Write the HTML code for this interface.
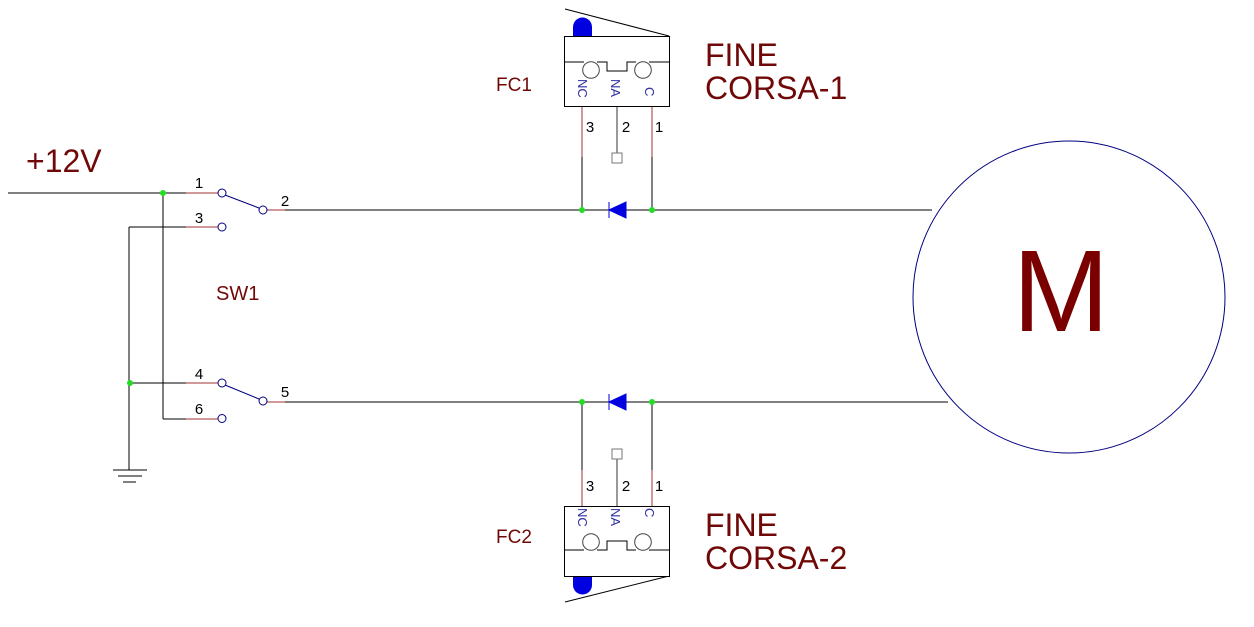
<!DOCTYPE html>
<html>
<head>
<meta charset="utf-8">
<style>
html,body{margin:0;padding:0;background:#fff;}
svg{display:block;}
text{font-family:"Liberation Sans",Arial,sans-serif;}
</style>
</head>
<body>
<svg width="1254" height="627" viewBox="0 0 1254 627" xmlns="http://www.w3.org/2000/svg">
<rect width="1254" height="627" fill="#fff"/>

<!-- ===== Wires ===== -->
<g stroke="#000" stroke-width="1" fill="none">
  <line x1="8" y1="193" x2="186" y2="193"/>
  <line x1="163" y1="193" x2="163" y2="419"/>
  <line x1="163" y1="419" x2="186" y2="419"/>
  <line x1="129" y1="227" x2="186" y2="227"/>
  <line x1="129" y1="227" x2="129" y2="470"/>
  <line x1="129" y1="383" x2="186" y2="383"/>
  <line x1="285" y1="210" x2="932" y2="210"/>
  <line x1="285" y1="402" x2="948" y2="402"/>
  <line x1="582" y1="157" x2="582" y2="210"/>
  <line x1="652" y1="157" x2="652" y2="210"/>
  <line x1="582" y1="402" x2="582" y2="470"/>
  <line x1="652" y1="402" x2="652" y2="470"/>
  <line x1="113" y1="470" x2="147" y2="470"/>
  <line x1="118" y1="476" x2="142" y2="476"/>
  <line x1="123" y1="482" x2="136" y2="482"/>
</g>

<g stroke="#a03030" stroke-width="1" fill="none">
  <line x1="186" y1="193" x2="218" y2="193"/>
  <line x1="186" y1="227" x2="218" y2="227"/>
  <line x1="186" y1="383" x2="218" y2="383"/>
  <line x1="186" y1="419" x2="218" y2="419"/>
  <line x1="267" y1="210" x2="285" y2="210"/>
  <line x1="267" y1="402" x2="285" y2="402"/>
  <line x1="582" y1="107" x2="582" y2="157"/>
  <line x1="652" y1="107" x2="652" y2="157"/>
  <line x1="582" y1="470" x2="582" y2="506"/>
  <line x1="652" y1="470" x2="652" y2="506"/>
</g>
<g stroke="#333" stroke-width="1" fill="none">
  <line x1="617" y1="107" x2="617" y2="153"/>
  <rect x="612" y="153" width="10" height="10" stroke="#777"/>
  <line x1="617" y1="459" x2="617" y2="506"/>
  <rect x="612" y="449" width="10" height="10" stroke="#777"/>
</g>

<!-- ===== Switch SW1 ===== -->
<g stroke="#000080" stroke-width="1" fill="#fff">
  <line x1="225" y1="195" x2="259" y2="208"/>
  <line x1="225" y1="385" x2="259" y2="399"/>
  <circle cx="222" cy="193" r="4"/>
  <circle cx="263" cy="210" r="4"/>
  <circle cx="222" cy="227" r="4"/>
  <circle cx="222" cy="383" r="4"/>
  <circle cx="263" cy="401" r="4"/>
  <circle cx="222" cy="418.5" r="4"/>
</g>
<g font-size="15" fill="#000">
  <text x="199" y="188" text-anchor="middle">1</text>
  <text x="285" y="206" text-anchor="middle">2</text>
  <text x="199" y="223" text-anchor="middle">3</text>
  <text x="199" y="379" text-anchor="middle">4</text>
  <text x="285" y="397" text-anchor="middle">5</text>
  <text x="199" y="414" text-anchor="middle">6</text>
</g>

<!-- ===== FC1 ===== -->
<g stroke="#000" stroke-width="1" fill="none">
  <line x1="565" y1="9" x2="669" y2="36"/>
  <rect x="564.5" y="36.5" width="105" height="70" fill="#fff"/>
  <polyline points="564,62 584,62"/>
  <polyline points="597,62 607,62 607,71 627,71 627,62 636,62"/>
  <polyline points="649,62 669,62"/>
  <circle cx="591" cy="70" r="8.3" stroke="#444"/>
  <circle cx="643" cy="70" r="8.3" stroke="#444"/>
</g>
<path d="M573,36 V27 A9.5,9.5 0 0 1 592,27 V36 Z" fill="#0000e0"/>
<g font-size="13" fill="#3030a0">
  <text transform="translate(578,79) rotate(90)">NC</text>
  <text transform="translate(611,79) rotate(90)">NA</text>
  <text transform="translate(645,87) rotate(90)">C</text>
</g>
<g font-size="15" fill="#000">
  <text x="590" y="132" text-anchor="middle">3</text>
  <text x="626" y="132" text-anchor="middle">2</text>
  <text x="659" y="132" text-anchor="middle">1</text>
</g>

<!-- ===== FC2 ===== -->
<g stroke="#000" stroke-width="1" fill="none">
  <line x1="565" y1="602" x2="669" y2="576"/>
  <rect x="564.5" y="506.5" width="105" height="70" fill="#fff"/>
  <polyline points="564,550 584,550"/>
  <polyline points="597,550 607,550 607,541 627,541 627,550 636,550"/>
  <polyline points="649,550 669,550"/>
  <circle cx="591" cy="542" r="8.3" stroke="#444"/>
  <circle cx="643" cy="542" r="8.3" stroke="#444"/>
</g>
<path d="M573,577 V585 A9.5,9.5 0 0 0 592,585 V577 Z" fill="#0000e0"/>
<g font-size="13" fill="#3030a0">
  <text transform="translate(578,508) rotate(90)">NC</text>
  <text transform="translate(611,508) rotate(90)">NA</text>
  <text transform="translate(645,508) rotate(90)">C</text>
</g>
<g font-size="15" fill="#000">
  <text x="590" y="491" text-anchor="middle">3</text>
  <text x="626" y="491" text-anchor="middle">2</text>
  <text x="659" y="491" text-anchor="middle">1</text>
</g>

<!-- ===== Diodes ===== -->
<g fill="#0000e0" stroke="#0000e0" stroke-width="1">
  <polygon points="609,210 626,202 626,218"/>
  <line x1="609" y1="202" x2="609" y2="218"/>
  <polygon points="609,402 626,394 626,410"/>
  <line x1="609" y1="394" x2="609" y2="410"/>
</g>

<g fill="#22dd22">
  <circle cx="582" cy="210" r="3"/>
  <circle cx="652" cy="210" r="3"/>
  <circle cx="582" cy="402" r="3"/>
  <circle cx="652" cy="402" r="3"/>
  <circle cx="163" cy="193" r="3"/>
  <circle cx="130" cy="383" r="3"/>
</g>

<!-- ===== Motor ===== -->
<circle cx="1069" cy="297" r="156" fill="none" stroke="#000080" stroke-width="1"/>
<text x="1061" y="331" font-size="116" fill="#7a0000" text-anchor="middle">M</text>

<!-- ===== Labels ===== -->
<g fill="#700808">
  <text x="26" y="172" font-size="32">+12V</text>
  <text x="216" y="300" font-size="20">SW1</text>
  <text x="496" y="91" font-size="19">FC1</text>
  <text x="496" y="543" font-size="19">FC2</text>
  <text x="705" y="66" font-size="32">FINE</text>
  <text x="705" y="99" font-size="32">CORSA-1</text>
  <text x="705" y="536" font-size="32">FINE</text>
  <text x="705" y="569" font-size="32">CORSA-2</text>
</g>
</svg>
</body>
</html>
